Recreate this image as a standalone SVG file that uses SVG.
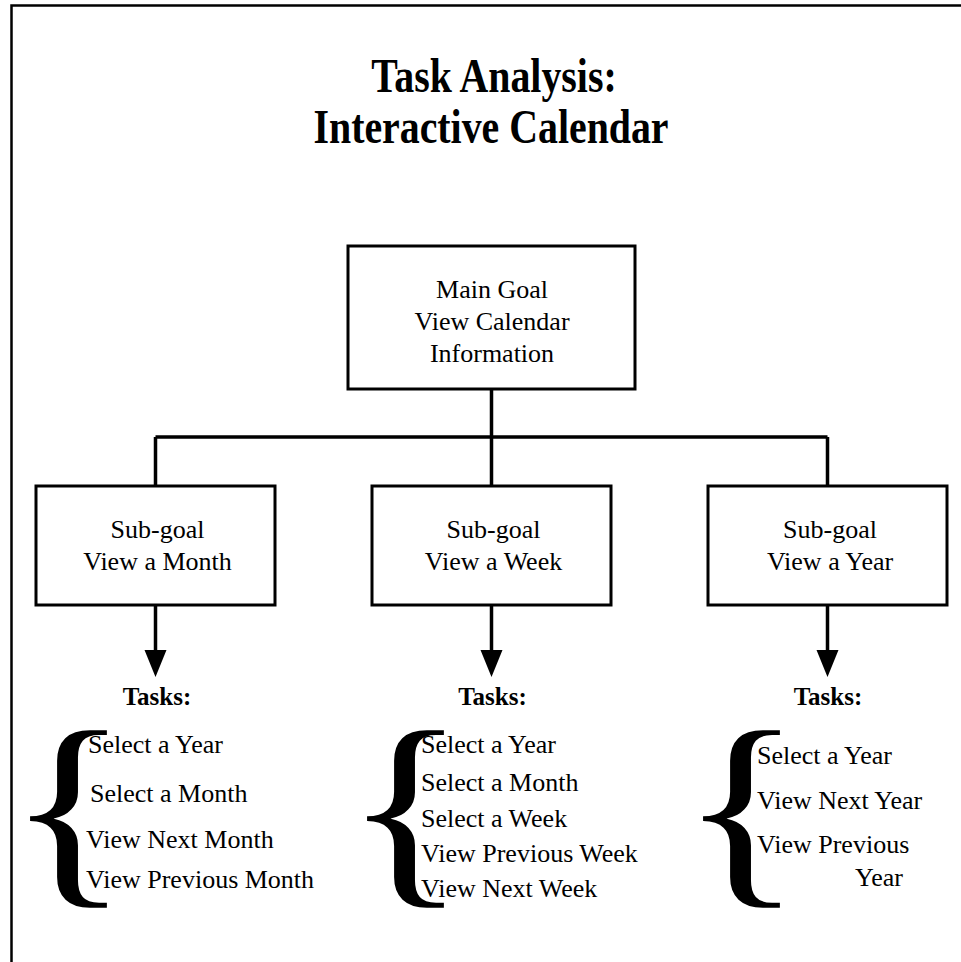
<svg xmlns="http://www.w3.org/2000/svg" width="961" height="962" viewBox="0 0 961 962">
  <defs>
    <style>
      .frame { fill: none; stroke: #000; stroke-width: 2.5; }
      .box { fill: #fff; stroke: #000; stroke-width: 3; }
      .wire { fill: none; stroke: #000; stroke-width: 3.5; }
      .lbl { font-family: "Liberation Serif", "Times New Roman", serif; font-size: 26px; fill: #000; }
      .mid { text-anchor: middle; }
      .title { font-family: "Liberation Serif", "Times New Roman", serif; font-size: 48px; font-weight: bold; fill: #000; text-anchor: middle; }
      .head { font-family: "Liberation Serif", "Times New Roman", serif; font-size: 25px; font-weight: bold; fill: #000; text-anchor: middle; }
      .brace { font-family: "Liberation Serif", "Times New Roman", serif; font-size: 214.5px; fill: #000; }
    </style>
    <!-- filled head; tip sits 17px past the end of the shaft -->
    <marker id="arrow" markerUnits="userSpaceOnUse" markerWidth="30" markerHeight="24" refX="10" refY="11" orient="auto">
      <path d="M0,0 L27,11 L0,22 Z" fill="#000"/>
    </marker>
  </defs>

  <rect width="961" height="962" fill="#fff"/>
  <path class="frame" d="M11.5,962 V5.5 H961"/>

  <!-- Heading -->
  <g id="title">
    <text class="title" transform="translate(494,92) scale(0.83,1)">Task Analysis:</text>
    <text class="title" transform="translate(491,143) scale(0.83,1)">Interactive Calendar</text>
  </g>

  <!-- Connectors -->
  <g id="connectors">
    <path class="wire" d="M491.5,389 V437 M155.5,437 H827.5 M155.5,437 V486 M491.5,437 V486 M827.5,437 V486"/>
    <path class="wire" d="M155.5,605 V660" marker-end="url(#arrow)"/>
    <path class="wire" d="M491.5,605 V660" marker-end="url(#arrow)"/>
    <path class="wire" d="M827.5,605 V660" marker-end="url(#arrow)"/>
  </g>

  <!-- Main goal -->
  <g id="main-goal">
    <rect class="box" x="348" y="246" width="287" height="143"/>
    <text class="lbl mid" x="492" y="298">Main Goal</text>
    <text class="lbl mid" x="492" y="330">View Calendar</text>
    <text class="lbl mid" x="492" y="362">Information</text>
  </g>

  <!-- Sub-goals -->
  <g id="subgoal-month">
    <rect class="box" x="36" y="486" width="239" height="119"/>
    <text class="lbl mid" x="157.5" y="538">Sub-goal</text>
    <text class="lbl mid" x="157.5" y="570">View a Month</text>
  </g>
  <g id="subgoal-week">
    <rect class="box" x="372" y="486" width="239" height="119"/>
    <text class="lbl mid" x="493.5" y="538">Sub-goal</text>
    <text class="lbl mid" x="493.5" y="570">View a Week</text>
  </g>
  <g id="subgoal-year">
    <rect class="box" x="708" y="486" width="239" height="119"/>
    <text class="lbl mid" x="830" y="538">Sub-goal</text>
    <text class="lbl mid" x="830" y="570">View a Year</text>
  </g>

  <!-- Task lists -->
  <g id="tasks-month">
    <text class="head" x="157" y="705">Tasks:</text>
    <text class="brace" transform="translate(6.7,879) scale(1.2,1)">{</text>
    <text class="lbl" x="88" y="753">Select a Year</text>
    <text class="lbl" x="90" y="802">Select a Month</text>
    <text class="lbl" x="86" y="848">View Next Month</text>
    <text class="lbl" x="86" y="888">View Previous Month</text>
  </g>
  <g id="tasks-week">
    <text class="head" x="492.5" y="705">Tasks:</text>
    <text class="brace" transform="translate(343.7,879) scale(1.2,1)">{</text>
    <text class="lbl" x="421" y="753">Select a Year</text>
    <text class="lbl" x="421" y="791">Select a Month</text>
    <text class="lbl" x="421" y="827">Select a Week</text>
    <text class="lbl" x="421" y="862">View Previous Week</text>
    <text class="lbl" x="421" y="897">View Next Week</text>
  </g>
  <g id="tasks-year">
    <text class="head" x="828" y="705">Tasks:</text>
    <text class="brace" transform="translate(679.7,879) scale(1.2,1)">{</text>
    <text class="lbl" x="757" y="764">Select a Year</text>
    <text class="lbl" x="757" y="809">View Next Year</text>
    <text class="lbl" x="757" y="853">View Previous</text>
    <text class="lbl" x="855" y="886">Year</text>
  </g>
</svg>
